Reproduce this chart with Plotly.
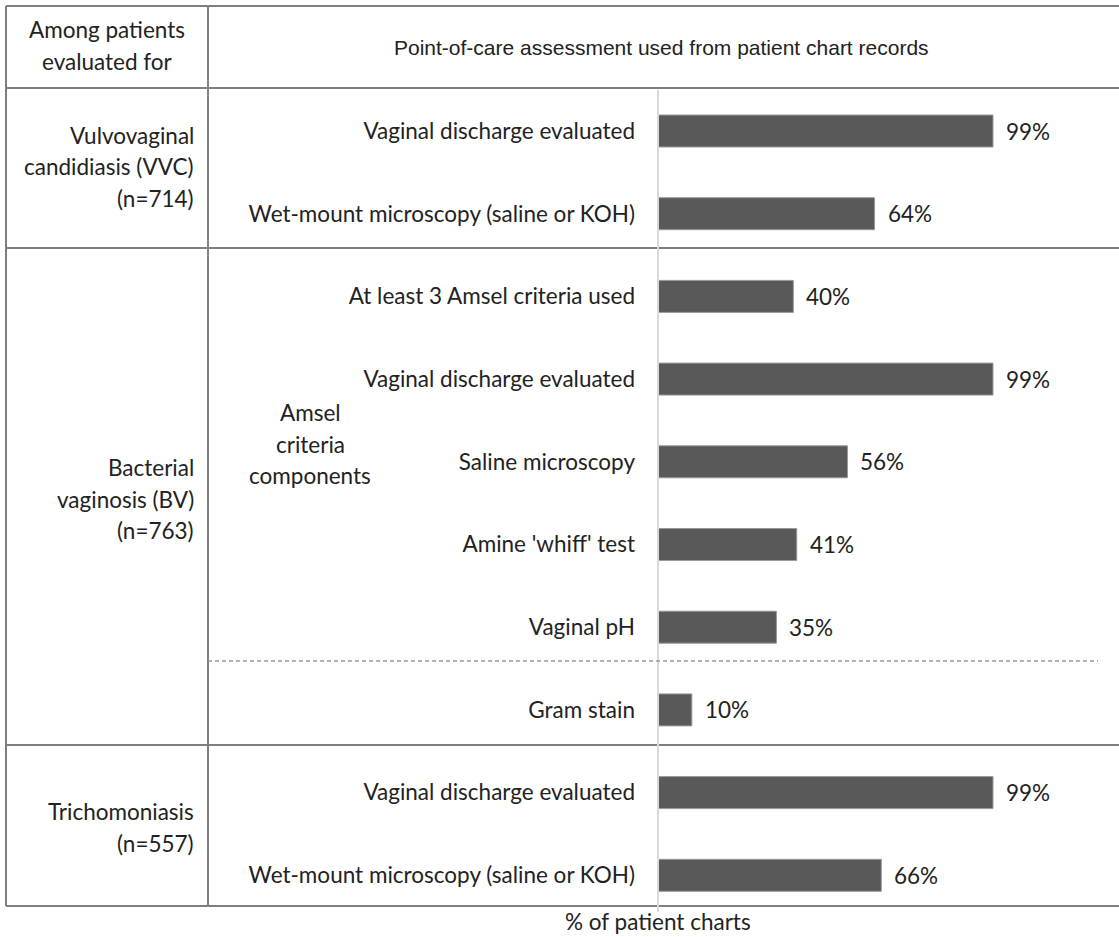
import plotly.graph_objects as go

# ---------------- data ----------------
row_labels = [
    "Vaginal discharge evaluated",
    "Wet-mount microscopy (saline or KOH)",
    "At least 3 Amsel criteria used",
    "Vaginal discharge evaluated",
    "Saline microscopy",
    "Amine 'whiff' test",
    "Vaginal pH",
    "Gram stain",
    "Vaginal discharge evaluated",
    "Wet-mount microscopy (saline or KOH)",
]
values = [99, 64, 40, 99, 56, 41, 35, 10, 99, 66]
group_labels = [
    ["Vulvovaginal", "candidiasis (VVC)", "(n=714)"],
    ["Bacterial", "vaginosis (BV)", "(n=763)"],
    ["Trichomoniasis", "(n=557)"],
]
header_left = ["Among patients", "evaluated for"]
header_right = "Point-of-care assessment used from patient chart records"
amsel_label = ["Amsel", "criteria", "components"]
x_title = "% of patient charts"

# ---------------- layout constants ----------------
W, H = 1119, 937
ML, MR, MT, MB = 658, 0, 89, 31
PW, PH = W - ML - MR, H - MT - MB
PX_PER_UNIT = 335 / 99.0
ROW0_PX, ROW_STEP = 131, 82.7

FONT = "Lato"
FS = 22.5
TXT = "#222222"
LINE = "#7f7f7f"


def px(x):
    return (x - ML) / PW


def py(y):
    return (H - MB - y) / PH


idx = list(range(len(values)))
y_top = -(ROW0_PX - MT) / ROW_STEP
y_bot = y_top + PH / ROW_STEP

fig = go.Figure()
fig.add_trace(go.Bar(
    x=values, y=idx, orientation="h",
    width=32 / ROW_STEP,
    marker=dict(color="#595959", line=dict(color="#9a9a9a", width=1)),
    hoverinfo="skip",
))

annotations = []
for v, i in zip(values, idx):
    annotations.append(dict(
        x=v, y=i, xref="x", yref="y", text=f"{v}%", showarrow=False,
        xanchor="left", yanchor="middle", xshift=11,
        font=dict(family=FONT, size=FS, color=TXT),
    ))


def add_lines(lines, x_px, y_center_px, anchor, spacing=31.5, size=FS, family=FONT):
    n = len(lines)
    for k, t in enumerate(lines):
        yc = y_center_px + (k - (n - 1) / 2) * spacing
        annotations.append(dict(
            x=px(x_px), y=py(yc), xref="paper", yref="paper", text=t,
            showarrow=False, xanchor=anchor, yanchor="middle",
            font=dict(family=family, size=size, color=TXT),
        ))


add_lines(header_left, 107, 45.5, "center")
annotations.append(dict(
    x=px(661), y=py(48), xref="paper", yref="paper", text=header_right,
    showarrow=False, xanchor="center", yanchor="middle",
    font=dict(family="Liberation Sans", size=21, color=TXT),
))
group_centers = [167, 499, 827.5]
for lines, yc in zip(group_labels, group_centers):
    add_lines(lines, 196, yc, "right")
add_lines(amsel_label, 310, 444, "center")
annotations.append(dict(
    x=px(658), y=py(921), xref="paper", yref="paper", text=x_title,
    showarrow=False, xanchor="center", yanchor="middle",
    font=dict(family=FONT, size=FS, color=TXT),
))

shapes = []


def hline(y, x0=6, x1=W, color=LINE, width=2, dash="solid"):
    shapes.append(dict(type="line", xref="paper", yref="paper",
                       x0=px(x0), x1=px(x1), y0=py(y), y1=py(y),
                       line=dict(color=color, width=width, dash=dash)))


def vline(x, y0, y1, color=LINE, width=2):
    shapes.append(dict(type="line", xref="paper", yref="paper",
                       x0=px(x), x1=px(x), y0=py(y0), y1=py(y1),
                       line=dict(color=color, width=width)))


for y in (6, 88, 248, 745, 906):
    hline(y)
vline(6, 6, 906)
vline(208, 6, 906)
vline(658, 90, 912, color="#d9d9d9", width=2)
hline(661, x0=208, x1=1098, color="#999999", width=1.3, dash="4px,3px")

fig.update_layout(
    width=W, height=H,
    margin=dict(l=ML, r=MR, t=MT, b=MB, pad=0),
    paper_bgcolor="white", plot_bgcolor="white",
    showlegend=False,
    xaxis=dict(range=[0, PW / PX_PER_UNIT], showgrid=False, zeroline=False,
               showticklabels=False, showline=False, fixedrange=True),
    yaxis=dict(range=[y_bot, y_top], tickmode="array", tickvals=idx, ticktext=row_labels,
               showgrid=False, zeroline=False, showline=False, ticks="",
               ticklabelstandoff=22,
               tickfont=dict(family=FONT, size=FS, color=TXT), fixedrange=True),
    annotations=annotations,
    shapes=shapes,
    font=dict(family=FONT, color=TXT),
)

fig.write_html(
    "out.html",
    config={"displayModeBar": False},
    post_script="document.body.style.margin='0';document.body.style.overflow='hidden';",
)
